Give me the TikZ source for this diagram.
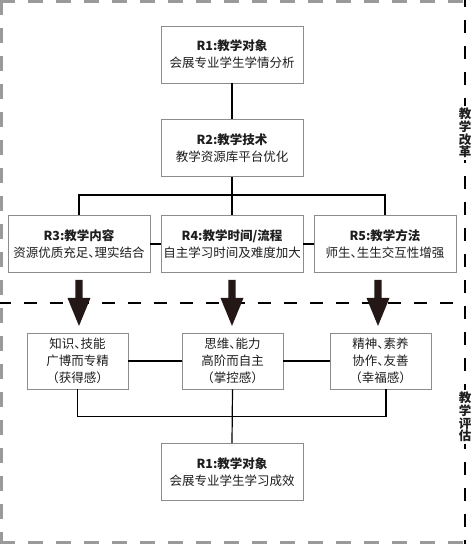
\documentclass[tikz,border=0pt]{standalone}
\usepackage{fontspec}
\setmainfont{Noto Sans CJK SC}
\usetikzlibrary{calc}
\definecolor{boxgray}{HTML}{8C8C8C}
\definecolor{framegray}{HTML}{9A9A9A}
\definecolor{textc}{HTML}{1E1E1E}
\definecolor{arrowc}{HTML}{231815}
\newcommand{\dunhao}{{\addfontfeature{RawFeature=+halt}、}}
\begin{document}
\begin{tikzpicture}[x=1pt,y=-1pt,
  box/.style={draw=boxgray,line width=0.9pt,fill=white,minimum width=142pt,minimum height=57pt,
    align=center,inner sep=0pt,font=\fontsize{12.5}{17}\selectfont,text=textc},
  sbox/.style={box,minimum width=101pt,minimum height=56pt},
  conn/.style={line width=1.2pt,black},
  bigarrow/.style={fill=arrowc,draw=none},
  sidelabel/.style={fill=white,inner sep=1.5pt,align=center,font=\fontsize{12.5}{12.8}\selectfont\bfseries,text=textc},
  greyframe/.style={draw=framegray,line width=3pt,dash pattern=on 15pt off 13pt},
  blackdash/.style={draw=black,line width=1.2pt,dash pattern=on 13pt off 13pt}]
\useasboundingbox (0,0) rectangle (474,544);

% frame
\draw[greyframe] (0,1.5) -- (466,1.5);
\draw[greyframe] (1.5,0) -- (1.5,544);
\draw[greyframe] (0,542.5) -- (466,542.5);
\draw[blackdash,dash phase=6pt] (465,0) -- (465,544);
\draw[blackdash,dash phase=2pt] (0,303) -- (465,303);

% boxes
\node[box] (r1) at (232,54.5) {\textbf{R1:教学对象}\\会展专业学生学情分析};
\node[box] (r2) at (232,148) {\textbf{R2:教学技术}\\教学资源库平台优化};
\node[box] (r3) at (79,244) {\textbf{R3:教学内容}\\资源优质充足\dunhao 理实结合};
\node[box] (r4) at (232,244) {\textbf{R4:教学时间/流程}\\自主学习时间及难度加大};
\node[box] (r5) at (385,244) {\textbf{R5:教学方法}\\师生\dunhao 生生交互性增强};

\node[sbox] (e1) at (77.5,361) {知识\dunhao 技能\\广博而专精\\（获得感）};
\node[sbox] (e2) at (232.5,361) {思维\dunhao 能力\\高阶而自主\\（掌控感）};
\node[sbox] (e3) at (380.5,361) {精神\dunhao 素养\\协作\dunhao 友善\\（幸福感）};

\node[box] (rb) at (232,472) {\textbf{R1:教学对象}\\会展专业学生学习成效};

% connectors
\draw[conn] (r1.south) -- (r2.north);
\draw[conn] (r2.south) -- (r4.north);
\draw[conn] (r3.north) -- ++(0,-20) -| (r5.north);
\draw[conn] (r3.east) -- (r4.west);
\draw[conn] (r4.east) -- (r5.west);
\draw[conn] (e1.east) -- (e2.west);
\draw[conn] (e2.east) -- (e3.west);
\coordinate (e3s) at ($(e3.south)+(5.5,0)$);
\draw[conn] (e1.south) -- ++(0,27) -| (e3s);
\draw[conn] (e2.south) -- (rb.north);

% big arrows
\foreach \n/\dx in {r3/0,r4/0,r5/-7}{
  \fill[bigarrow] ($(\n.south)+(\dx-3.6,7)$) -- ($(\n.south)+(\dx+3.6,7)$) -- ($(\n.south)+(\dx+3.6,25)$)
    -- ($(\n.south)+(\dx+11.5,25)$) -- ($(\n.south)+(\dx,53)$) -- ($(\n.south)+(\dx-11.5,25)$)
    -- ($(\n.south)+(\dx-3.6,25)$) -- cycle;
}

% side labels
\node[sidelabel] (lab1) at (465,133) {教\\学\\改\\革};
\node[sidelabel] (lab2) at (465,417) {教\\学\\评\\估};
\end{tikzpicture}
\end{document}
